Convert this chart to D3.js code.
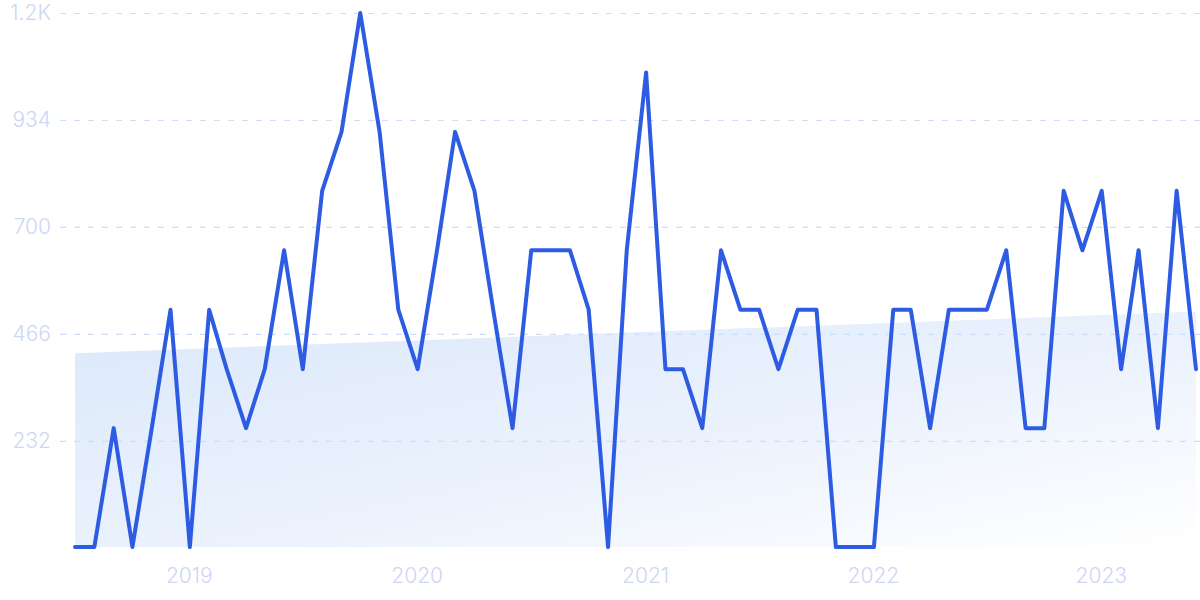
<!DOCTYPE html>
<html>
<head>
<meta charset="utf-8">
<script src="https://cdn.jsdelivr.net/npm/d3@7"></script>
<style>
  html, body { margin: 0; padding: 0; background: #ffffff; }
  svg { display: block; }
  text { font-family: Inter, "Open Sans", sans-serif; }
</style>
</head>
<body>
<svg id="chart" width="1200" height="600"></svg>
<script>
// ---- data ----
const startMonth = "2018-07";
const values = [
  0, 0, 260, 0, 260, 519, 0, 519, 389, 260, 389, 649,
  389, 779, 908, 1168, 908, 519, 389, 649, 908, 779, 519, 260,
  649, 649, 649, 519, 0, 649, 1038, 389, 389, 260, 649, 519,
  519, 389, 519, 519, 0, 0, 0, 519, 519, 260, 519, 519,
  519, 649, 260, 260, 779, 649, 779, 389, 649, 260, 779, 389
];
const trendValues = [424, 515];
const yTickValues = [232, 466, 700, 934, 1168];
const yTickLabels = ["232", "466", "700", "934", "1.2K"];
const xTickYears = [2019, 2020, 2021, 2022, 2023];

// ---- build ----
const parse = d3.timeParse("%Y-%m");
const t0 = parse(startMonth);
const data = values.map((v, i) => ({ date: d3.timeMonth.offset(t0, i), value: v }));
const trend = [
  { date: data[0].date, value: trendValues[0] },
  { date: data[data.length - 1].date, value: trendValues[1] }
];

const svg = d3.select("#chart");
const x = d3.scaleTime()
  .domain([data[0].date, data[data.length - 1].date])
  .range([75, 1196]);
const y = d3.scaleLinear().domain([0, 1168]).range([547, 13]);

const defs = svg.append("defs");
const grad = defs.append("linearGradient")
  .attr("id", "areaGrad")
  .attr("x1", "0").attr("y1", "0").attr("x2", "1").attr("y2", "1");
grad.append("stop").attr("offset", "0").attr("stop-color", "#dbe8fa");
grad.append("stop").attr("offset", "0.55").attr("stop-color", "#ebf2fd");
grad.append("stop").attr("offset", "1").attr("stop-color", "#ffffff");

// trend area
const area = d3.area()
  .x(d => x(d.date))
  .y0(y(0))
  .y1(d => y(d.value));
svg.append("path")
  .datum(trend)
  .attr("d", area)
  .attr("fill", "url(#areaGrad)");

// gridlines + y labels
const yAxis = d3.axisLeft(y)
  .tickValues(yTickValues)
  .tickFormat((d, i) => yTickLabels[i])
  .tickSize(-1140)
  .tickPadding(9);
const gy = svg.append("g")
  .attr("transform", "translate(60,0)")
  .call(yAxis);
gy.select(".domain").remove();
gy.selectAll(".tick line")
  .attr("stroke", "#cadffb")
  .attr("stroke-width", 1.2)
  .attr("stroke-dasharray", "6,8");
gy.selectAll(".tick text")
  .attr("fill", "#cdd6f4")
  .attr("font-size", 21)
  .attr("font-weight", 300)
  .attr("font-family", "Inter, sans-serif");

// x labels
const xAxis = d3.axisBottom(x)
  .tickValues(xTickYears.map(yr => new Date(yr, 0, 1)))
  .tickFormat(d3.timeFormat("%Y"))
  .tickSize(0)
  .tickPadding(16);
const gx = svg.append("g")
  .attr("transform", "translate(-1,552)")
  .call(xAxis);
gx.select(".domain").remove();
gx.selectAll(".tick text")
  .attr("fill", "#cdd6f4")
  .attr("font-size", 21)
  .attr("font-weight", 300)
  .attr("font-family", "Inter, sans-serif");

// main line
const line = d3.line()
  .x(d => x(d.date))
  .y(d => y(d.value));
svg.append("path")
  .datum(data)
  .attr("d", line)
  .attr("fill", "none")
  .attr("stroke", "#2d5ce3")
  .attr("stroke-width", 4)
  .attr("stroke-linejoin", "round")
  .attr("stroke-linecap", "round");
</script>
</body>
</html>
